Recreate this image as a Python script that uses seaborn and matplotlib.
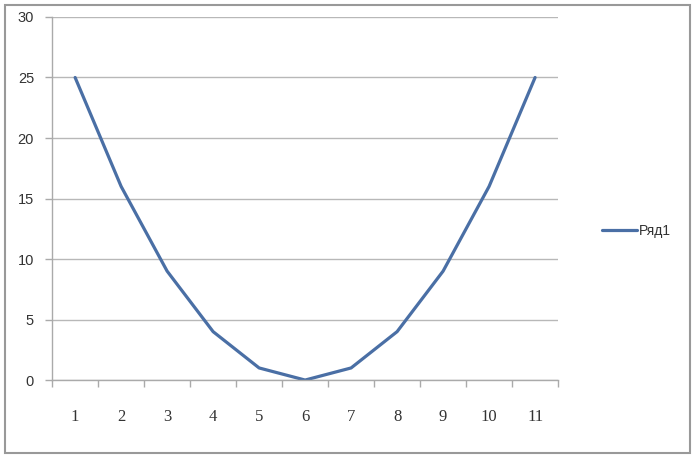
import pandas as pd
import seaborn as sns
import matplotlib.pyplot as plt
from matplotlib.patches import Rectangle
from matplotlib.ticker import FixedLocator

# data
x_vals = [1, 2, 3, 4, 5, 6, 7, 8, 9, 10, 11]
y_vals = [25, 16, 9, 4, 1, 0, 1, 4, 9, 16, 25]
series_name = 'Ряд1'

df = pd.DataFrame({'x': x_vals, 'y': y_vals, 'series': series_name})

sns.set_style("white")
plt.rcParams['font.family'] = ['Liberation Sans', 'DejaVu Sans']

fig = plt.figure(figsize=(6.95, 4.59), dpi=100)
ax = fig.add_axes([0.075, 0.172, 0.728, 0.791])

sns.lineplot(data=df, x='x', y='y', hue='series', palette=['#4a6fa5'],
             linewidth=2.3, ax=ax)

ax.set_xlim(0.5, 11.5)
ax.set_ylim(0, 30)
ax.set_yticks(range(0, 31, 5))
ax.set_xticks(x_vals)
ax.xaxis.set_minor_locator(FixedLocator([i + 0.5 for i in range(0, 12)]))
ax.tick_params(axis='x', which='major', length=0, pad=21, labelsize=12,
               labelcolor='#333333')
ax.tick_params(axis='x', which='minor', length=5, width=1, color='#aaaaaa',
               direction='out', bottom=True)
ax.tick_params(axis='y', length=5, width=1, color='#aaaaaa', direction='out', pad=8,
               labelsize=10.5, labelcolor='#333333', left=True)
for lab in ax.get_xticklabels():
    lab.set_family(['Liberation Serif', 'DejaVu Serif'])

ax.grid(axis='y', color='#b8b8b8', linewidth=1.0)
ax.set_axisbelow(True)
for side in ['top', 'right']:
    ax.spines[side].set_visible(False)
for side in ['left', 'bottom']:
    ax.spines[side].set_color('#aaaaaa')
    ax.spines[side].set_linewidth(1.0)
ax.set_xlabel('')
ax.set_ylabel('')

ax.legend(title=None, frameon=False, loc='center left',
          bbox_to_anchor=(0.848, 0.497), bbox_transform=fig.transFigure,
          fontsize=10, handlelength=2.5, handletextpad=0.2,
          labelcolor='#333333')

fig.patches.append(Rectangle((0.007, 0.012), 0.986, 0.978, transform=fig.transFigure,
                             fill=False, edgecolor='#999999', linewidth=1.5))

fig.savefig('out.png', dpi=100)
